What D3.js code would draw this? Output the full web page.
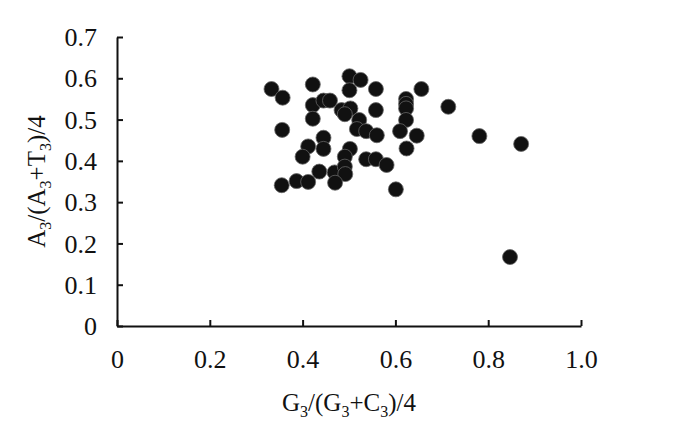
<!DOCTYPE html>
<html>
<head>
<meta charset="utf-8">
<script src="https://cdn.jsdelivr.net/npm/d3@7"></script>
<style>
  body { margin: 0; background: #fff; }
  text { font-family: "Liberation Serif", "DejaVu Serif", serif; fill: #111; }
</style>
</head>
<body>
<script>
// chart size
const width = 700
const height = 434
const margin = { top: 37, right: 119, bottom: 108, left: 117 }

// data
const gcSkew = [0.333, 0.357, 0.422, 0.501, 0.525, 0.501, 0.558, 0.656, 0.714, 0.422,
  0.445, 0.459, 0.484, 0.503, 0.491, 0.558, 0.623, 0.623, 0.623, 0.623,
  0.422, 0.356, 0.522, 0.517, 0.537, 0.560, 0.610, 0.646, 0.445, 0.412,
  0.445, 0.400, 0.502, 0.491, 0.624, 0.537, 0.558, 0.581, 0.436, 0.469,
  0.491, 0.492, 0.355, 0.387, 0.412, 0.470, 0.601, 0.781, 0.871, 0.847]
const atSkew = [0.574, 0.553, 0.585, 0.605, 0.596, 0.571, 0.574, 0.574, 0.531, 0.535,
  0.546, 0.546, 0.523, 0.527, 0.513, 0.523, 0.550, 0.538, 0.527, 0.499,
  0.502, 0.475, 0.499, 0.477, 0.472, 0.462, 0.472, 0.461, 0.456, 0.435,
  0.429, 0.410, 0.429, 0.410, 0.430, 0.404, 0.404, 0.390, 0.374, 0.372,
  0.386, 0.368, 0.341, 0.351, 0.349, 0.347, 0.331, 0.460, 0.441, 0.167]
const xTicks = [0, 0.2, 0.4, 0.6, 0.8, 1.0]
const xTickLabels = ["0", "0.2", "0.4", "0.6", "0.8", "1.0"]
const yTicks = [0, 0.1, 0.2, 0.3, 0.4, 0.5, 0.6, 0.7]
const yTickLabels = ["0", "0.1", "0.2", "0.3", "0.4", "0.5", "0.6", "0.7"]

const points = gcSkew.map((g, i) => ({ x: g, y: atSkew[i] }))

const svg = d3.select("body").append("svg")
  .attr("width", width)
  .attr("height", height)

const x = d3.scaleLinear([0, 1], [margin.left, width - margin.right])
const y = d3.scaleLinear([0, 0.7], [height - margin.bottom, margin.top])

// x axis, ticks pointing inward
const xAxis = svg.append("g")
  .attr("transform", `translate(0,${y(0)})`)
  .call(d3.axisBottom(x).tickValues(xTicks).tickSizeInner(-6).tickSizeOuter(0)
    .tickFormat((d, i) => xTickLabels[i]))
xAxis.select(".domain").attr("stroke", "#111").attr("stroke-width", 2)
xAxis.selectAll(".tick line").attr("stroke", "#111").attr("stroke-width", 2)
xAxis.selectAll(".tick text")
  .attr("y", 42)
  .attr("dy", 0)
  .style("font-size", "26px")
  .style("font-family", "Liberation Serif, serif")

// y axis, ticks pointing inward
const yAxis = svg.append("g")
  .attr("transform", `translate(${x(0)},0)`)
  .call(d3.axisLeft(y).tickValues(yTicks).tickSizeInner(-6).tickSizeOuter(0)
    .tickFormat((d, i) => yTickLabels[i]))
yAxis.select(".domain").attr("stroke", "#111").attr("stroke-width", 2)
yAxis.selectAll(".tick line").attr("stroke", "#111").attr("stroke-width", 2)
yAxis.selectAll(".tick text")
  .attr("x", -20)
  .attr("dy", "0.33em")
  .style("font-size", "26px")
  .style("font-family", "Liberation Serif, serif")

// markers
svg.append("g")
  .selectAll("circle")
  .data(points)
  .join("circle")
    .attr("cx", d => x(d.x))
    .attr("cy", d => y(d.y))
    .attr("r", 7.5)
    .attr("fill", "#111")
    .attr("stroke", "#666")
    .attr("stroke-width", 0.8)

// axis titles with subscripts
function titled(sel, parts) {
  parts.forEach(p => {
    sel.append("tspan")
      .attr("dy", p.sub ? 6 : (p.after ? -6 : 0))
      .style("font-size", p.sub ? "16px" : "25px")
      .text(p.t)
  })
}

const xt = svg.append("text")
  .attr("x", (x(0) + x(1)) / 2)
  .attr("y", 411)
  .attr("text-anchor", "middle")
titled(xt, [
  { t: "G" }, { t: "3", sub: true }, { t: "/(G", after: true }, { t: "3", sub: true },
  { t: "+C", after: true }, { t: "3", sub: true }, { t: ")/4", after: true }
])

const yt = svg.append("text")
  .attr("transform", `translate(45,${(y(0) + y(0.7)) / 2}) rotate(-90)`)
  .attr("text-anchor", "middle")
titled(yt, [
  { t: "A" }, { t: "3", sub: true }, { t: "/(A", after: true }, { t: "3", sub: true },
  { t: "+T", after: true }, { t: "3", sub: true }, { t: ")/4", after: true }
])
</script>
</body>
</html>
